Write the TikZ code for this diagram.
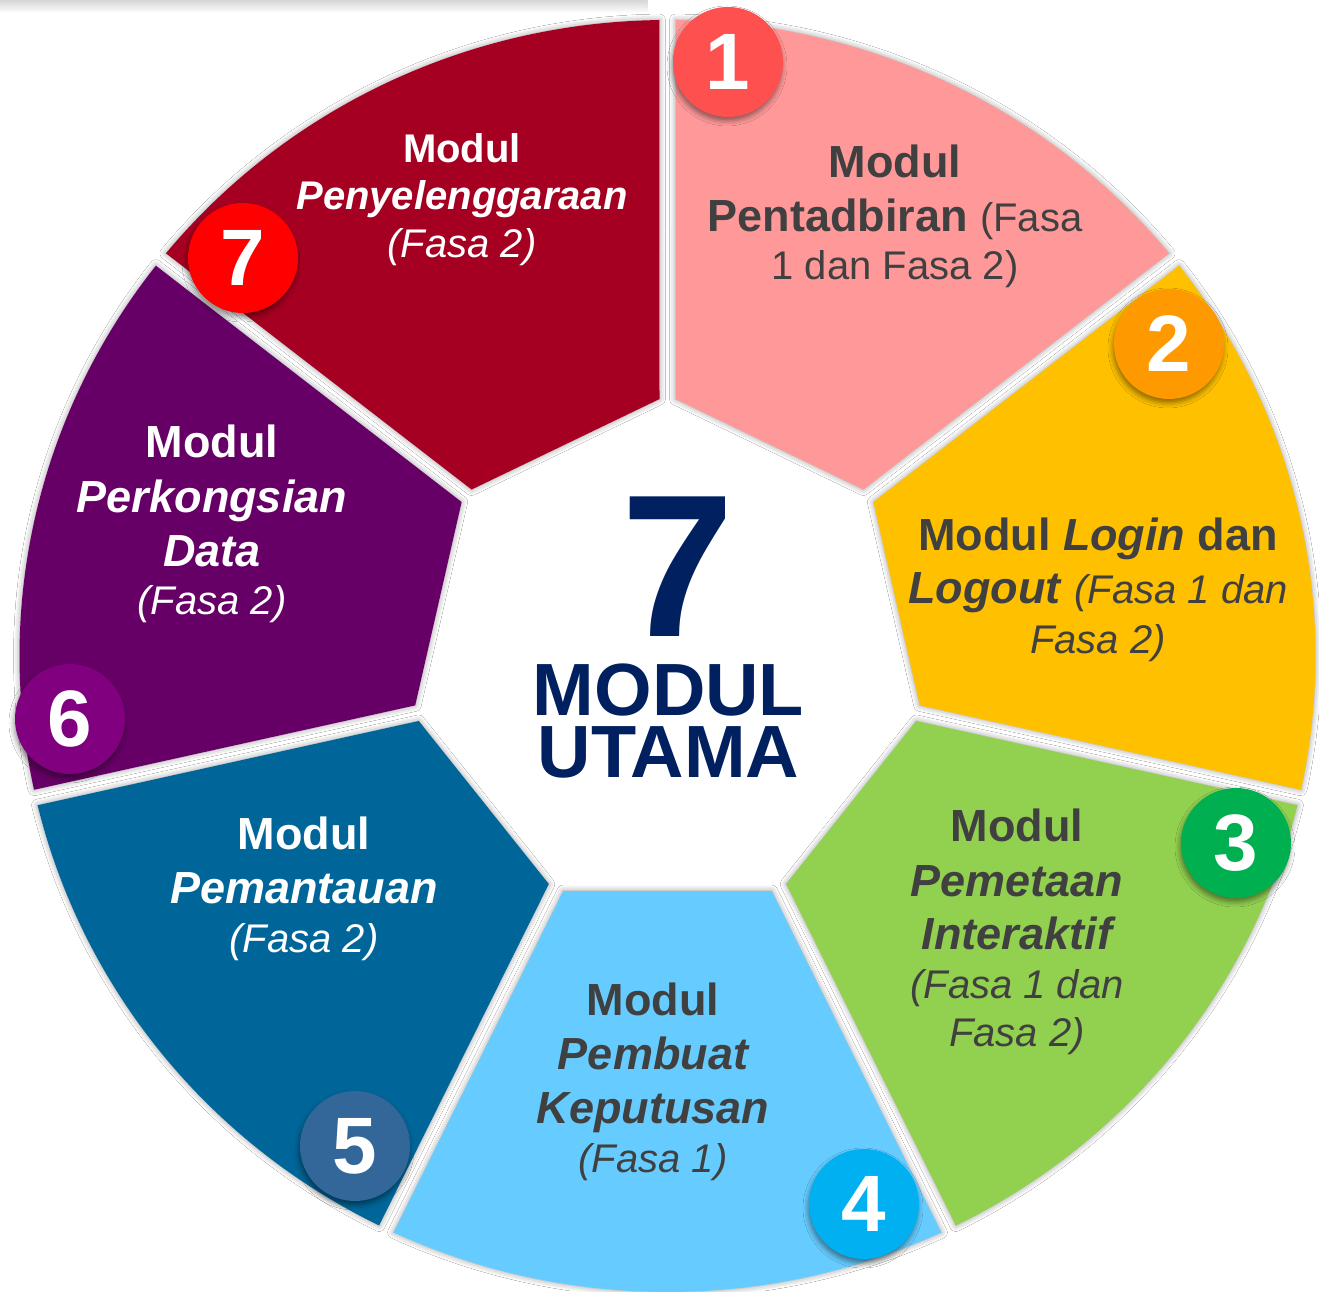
\documentclass[tikz,border=0pt]{standalone}
\usepackage{fontspec}
\setmainfont{Liberation Sans}
\usetikzlibrary{shadows.blur}
\definecolor{segA}{HTML}{FF9999}
\definecolor{segB}{HTML}{FFC000}
\definecolor{segC}{HTML}{92D050}
\definecolor{segD}{HTML}{66CCFF}
\definecolor{segE}{HTML}{006699}
\definecolor{segF}{HTML}{660066}
\definecolor{segG}{HTML}{A50021}
\definecolor{cirA}{HTML}{FF5050}
\definecolor{cirB}{HTML}{FF9900}
\definecolor{cirC}{HTML}{00B050}
\definecolor{cirD}{HTML}{00B0F0}
\definecolor{cirE}{HTML}{336699}
\definecolor{cirF}{HTML}{800080}
\definecolor{cirG}{HTML}{FF0000}
\definecolor{navy}{HTML}{002060}
\definecolor{txtgray}{HTML}{404040}
\tikzset{
  segshape/.style={blur shadow={shadow xshift=0pt,shadow yshift=0pt,shadow blur radius=6pt,shadow opacity=40}},
  numc/.style={circle, minimum size=110pt, inner sep=0pt, text=white,
    font=\fontsize{80}{80}\selectfont\bfseries,
    blur shadow={shadow xshift=-1pt,shadow yshift=-4pt,shadow blur radius=5pt,shadow opacity=45}},
  bl/.style={anchor=base, inner sep=0pt, font=\fontsize{45}{54}\selectfont\bfseries},
  rl/.style={anchor=base, inner sep=0pt, font=\fontsize{40}{48}\selectfont},
  dk/.style={text=txtgray},
  lt/.style={text=white},
}
\newcommand{\rf}{\fontsize{40}{48}\selectfont\mdseries}
\def\titlestack{\vbox{\offinterlineskip\halign{\hfil##\hfil\cr
  \fontsize{203}{203}\selectfont\hskip18pt 7\cr
  \noalign{\kern27pt}
  \fontsize{74}{74}\selectfont MODUL\cr
  \noalign{\kern10pt}
  \fontsize{74}{74}\selectfont UTAMA\cr}}}
\begin{document}
\begin{tikzpicture}[x=1pt,y=1pt]
\useasboundingbox (-667.5,-635) rectangle (651.5,656);
\fill[white] (-667.5,-635) rectangle (651.5,656);
\shade[top color=black!16, bottom color=white] (-667.5,656) rectangle (-20,643);

% segments: ring between a heptagon and an ellipse, split by white gaps
\foreach \a/\c in {64.2857/segA,12.8571/segB,-38.5714/segC,-90/segD,-141.4286/segE,-192.8571/segF,115.7143/segG}
  \fill[segshape, fill=\c]
    (\a+23.93:257.1) -- (\a+25:648 and 636)
    arc[start angle=\a+25,end angle=\a-25,x radius=648,y radius=636]
    -- (\a-23.93:257.1) -- cycle;

% centre title
\node[inner sep=0pt, text=navy, font=\bfseries] (title) at (1,18.5) {\titlestack};

% segment 1
\node[bl,dk] (a1) at (227.5,478) {Modul};
\node[bl,dk] (a2) at (227.5,424) {Pentadbiran {\rf(Fasa}};
\node[rl,dk] (a3) at (227.5,376) {1 dan Fasa 2)};
% segment 2
\node[bl,dk] (b1) at (430.5,106) {Modul \textit{Login} dan};
\node[bl,dk] (b2) at (430.5,53) {\textit{Logout} {\rf\itshape(Fasa 1 dan}};
\node[rl,dk] (b3) at (430.5,3) {\itshape Fasa 2)};
% segment 3
\node[bl,dk] (c1) at (349.5,-185) {Modul};
\node[bl,dk] (c2) at (349.5,-240) {\itshape Pemetaan};
\node[bl,dk] (c3) at (349.5,-293) {\itshape Interaktif};
\node[rl,dk] (c4) at (349.5,-342) {\itshape(Fasa 1 dan};
\node[rl,dk] (c5) at (349.5,-390.5) {\itshape Fasa 2)};
% segment 4
\node[bl,dk] (d1) at (-14.5,-359) {Modul};
\node[bl,dk] (d2) at (-14.5,-413) {\itshape Pembuat};
\node[bl,dk] (d3) at (-14.5,-467) {\itshape Keputusan};
\node[rl,dk] (d4) at (-14.5,-516) {\itshape(Fasa 1)};
% segment 5
\node[bl,lt] (e1) at (-363.5,-193) {Modul};
\node[bl,lt] (e2) at (-363.5,-247) {\itshape Pemantauan};
\node[rl,lt] (e3) at (-363.5,-296) {\itshape(Fasa 2)};
% segment 6
\node[bl,lt] (f1) at (-455.5,199) {Modul};
\node[bl,lt] (f2) at (-455.5,144) {\itshape Perkongsian};
\node[bl,lt] (f3) at (-455.5,90) {\itshape Data};
\node[rl,lt] (f4) at (-455.5,42) {\itshape(Fasa 2)};
% segment 7
\node[rl,lt,font=\fontsize{40}{48}\selectfont\bfseries] (g1) at (-205.5,493) {Modul};
\node[rl,lt,font=\fontsize{40}{48}\selectfont\bfseries] (g2) at (-205.5,446) {\itshape Penyelenggaraan};
\node[rl,lt] (g3) at (-205.5,398) {\itshape(Fasa 2)};

% number badges
\node[numc, fill=cirA] (n1) at (60.5,594) {1};
\node[numc, fill=cirB] (n2) at (501.5,312) {2};
\node[numc, fill=cirC] (n3) at (568.5,-187) {3};
\node[numc, fill=cirD] (n4) at (196.5,-548) {4};
\node[numc, fill=cirE] (n5) at (-312.5,-490) {5};
\node[numc, fill=cirF] (n6) at (-597.5,-63) {6};
\node[numc, fill=cirG] (n7) at (-424.5,398) {7};
\end{tikzpicture}
\end{document}
